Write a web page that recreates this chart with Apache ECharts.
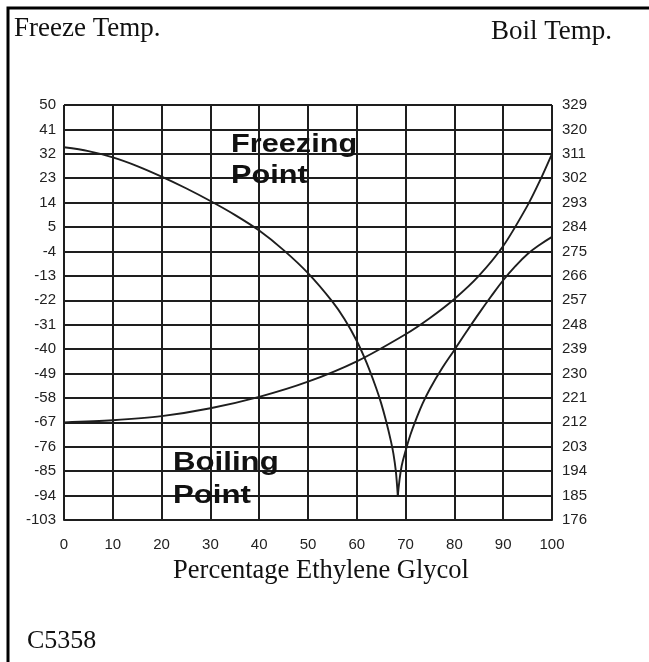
<!DOCTYPE html>
<html>
<head>
<meta charset="utf-8">
<script src="https://cdn.jsdelivr.net/npm/echarts@6/dist/echarts.min.js"></script>
<style>
  html, body { margin: 0; padding: 0; background: #ffffff; }
  #chart { width: 649px; height: 662px; }
</style>
</head>
<body>
<div id="chart"></div>
<script>
// Axis tick values
const percentTicks = [0, 10, 20, 30, 40, 50, 60, 70, 80, 90, 100];
const freezeTicks = [-103, -94, -85, -76, -67, -58, -49, -40, -31, -22, -13, -4, 5, 14, 23, 32, 41, 50];
const boilTicks = [176, 185, 194, 203, 212, 221, 230, 239, 248, 257, 266, 275, 284, 293, 302, 311, 320, 329];

// Freezing point (°F) vs percentage glycol, falling branch down to the eutectic cusp
const freezeFalling = [
  [0, 34.4], [5, 33], [10, 30.7], [15, 27.5], [20, 23.6], [25, 19.3], [30, 14.6],
  [35, 9.5], [40, 3.7], [45, -3.5], [50, -12], [55, -22.5], [57.5, -29], [60, -37],
  [62, -45], [64, -54.5], [65, -60], [66, -66.5], [67, -74], [67.5, -78.5], [68, -85], [68.4, -94]
];
// Freezing point rising branch after the cusp
const freezeRising = [
  [68.4, -94], [68.7, -89], [69.2, -83], [70, -77.5], [71, -71.5], [72.3, -65.2], [73.5, -60],
  [75, -54.6], [77.5, -47], [80, -40.3], [82.5, -33.5], [85, -26.9], [87.5, -20.6],
  [90, -14.6], [92.5, -9.4], [95, -4.9], [97.5, -1.5], [100, 1.4]
];
// Boiling point (°F) vs percentage glycol
const boilCurve = [
  [0, 212], [10, 212.8], [20, 214.3], [30, 217.2], [40, 221.4], [50, 227], [60, 234.5],
  [70, 244.5], [75, 250.5], [80, 257.5], [85, 266], [90, 277], [95, 292], [97.5, 301], [100, 311]
];

const INK = '#1e1e1e';
const SANS = '"Liberation Sans", Arial, sans-serif';
const SERIF = '"Liberation Serif", "Times New Roman", serif';

const chart = echarts.init(document.getElementById('chart'), null, { renderer: 'canvas' });

function valueAxis(ticks, position) {
  return {
    type: 'value',
    position: position,
    min: ticks[0],
    max: ticks[ticks.length - 1],
    axisLine: { show: false },
    axisTick: { show: false, customValues: ticks },
    axisLabel: {
      customValues: ticks,
      color: '#222',
      fontFamily: SANS,
      fontSize: 15,
      margin: position === 'left' ? 8 : 10
    },
    splitLine: { show: true, lineStyle: { color: INK, width: 2 } }
  };
}

const lineStyle = { color: INK, width: 1.9 };

function label(text, x, y, font, extra) {
  return Object.assign({
    type: 'text', x: x, y: y, z: 100,
    style: { text: text, font: font, fill: '#111', verticalAlign: 'top' }
  }, extra || {});
}

const boldFont = 'bold 26px ' + SANS;
const serifFont = '27px ' + SERIF;

chart.setOption({
  animation: false,
  backgroundColor: '#ffffff',
  grid: { left: 64, right: 97, top: 105, bottom: 142, show: false },
  xAxis: {
    type: 'value',
    min: percentTicks[0],
    max: percentTicks[percentTicks.length - 1],
    interval: percentTicks[1] - percentTicks[0],
    axisLine: { show: true, onZero: false, lineStyle: { color: INK, width: 2 } },
    axisTick: { show: false },
    axisLabel: { color: '#222', fontFamily: SANS, fontSize: 15, margin: 17 },
    splitLine: { show: true, lineStyle: { color: INK, width: 2 } }
  },
  yAxis: [valueAxis(freezeTicks, 'left'), valueAxis(boilTicks, 'right')],
  series: [
    { name: 'Freezing Point', type: 'line', yAxisIndex: 0, data: freezeFalling,
      smooth: 0.3, showSymbol: false, lineStyle: lineStyle, z: 5 },
    { name: 'Freezing Point', type: 'line', yAxisIndex: 0, data: freezeRising,
      smooth: 0.4, showSymbol: false, lineStyle: lineStyle, z: 5 },
    { name: 'Boiling Point', type: 'line', yAxisIndex: 1, data: boilCurve,
      smooth: 0.3, showSymbol: false, lineStyle: lineStyle, z: 5 }
  ],
  graphic: [
    { type: 'rect', shape: { x: 8, y: 8, width: 700, height: 700 },
      style: { fill: 'none', stroke: '#000', lineWidth: 3 }, z: 100 },
    label('Freeze Temp.', 14, 15, serifFont),
    label('Boil Temp.', 491, 18, serifFont),
    label('Freezing', 231, 132, boldFont, { scaleX: 1.18 }),
    label('Point', 231, 163, boldFont, { scaleX: 1.18 }),
    label('Boiling', 173, 450, boldFont, { scaleX: 1.2 }),
    label('Point', 173, 483, boldFont, { scaleX: 1.2 }),
    {
      type: 'text', x: 321, y: 558, z: 100,
      style: { text: 'Percentage Ethylene Glycol', font: '26.5px ' + SERIF, fill: '#111',
               align: 'center', verticalAlign: 'top' }
    },
    label('C5358', 27, 628, '26px ' + SERIF)
  ]
});
</script>
</body>
</html>
